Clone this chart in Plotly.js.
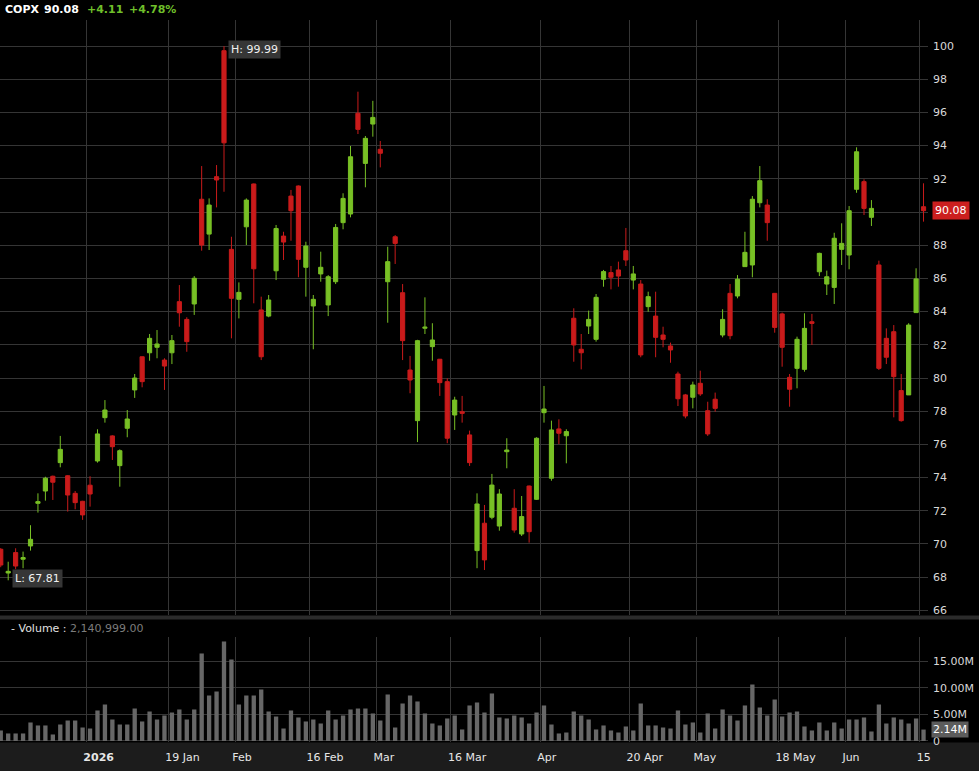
<!DOCTYPE html>
<html><head><meta charset="utf-8">
<script src="https://cdn.plot.ly/plotly-3.0.1.min.js"></script>
<style>html,body{margin:0;padding:0;background:#000;}#chart{width:979px;height:771px;}</style>
</head><body><div id="chart"></div>
<script>
const dates = [
"2025-12-15","2025-12-16","2025-12-17","2025-12-18","2025-12-19","2025-12-22","2025-12-23","2025-12-24","2025-12-26","2025-12-29","2025-12-30","2025-12-31",
"2026-01-02","2026-01-05","2026-01-06","2026-01-07","2026-01-08","2026-01-09","2026-01-12","2026-01-13","2026-01-14","2026-01-15","2026-01-16","2026-01-20","2026-01-21","2026-01-22","2026-01-23","2026-01-26","2026-01-27","2026-01-28","2026-01-29","2026-01-30",
"2026-02-02","2026-02-03","2026-02-04","2026-02-05","2026-02-06","2026-02-09","2026-02-10","2026-02-11","2026-02-12","2026-02-13","2026-02-17","2026-02-18","2026-02-19","2026-02-20","2026-02-23","2026-02-24","2026-02-25","2026-02-26","2026-02-27",
"2026-03-02","2026-03-03","2026-03-04","2026-03-05","2026-03-06","2026-03-09","2026-03-10","2026-03-11","2026-03-12","2026-03-13","2026-03-16","2026-03-17","2026-03-18","2026-03-19","2026-03-20","2026-03-23","2026-03-24","2026-03-25","2026-03-26","2026-03-27","2026-03-30","2026-03-31",
"2026-04-01","2026-04-02","2026-04-06","2026-04-07","2026-04-08","2026-04-09","2026-04-10","2026-04-13","2026-04-14","2026-04-15","2026-04-16","2026-04-17","2026-04-20","2026-04-21","2026-04-22","2026-04-23","2026-04-24","2026-04-27","2026-04-28","2026-04-29","2026-04-30",
"2026-05-01","2026-05-04","2026-05-05","2026-05-06","2026-05-07","2026-05-08","2026-05-11","2026-05-12","2026-05-13","2026-05-14","2026-05-15","2026-05-18","2026-05-19","2026-05-20","2026-05-21","2026-05-22","2026-05-26","2026-05-27","2026-05-28","2026-05-29",
"2026-06-01","2026-06-02","2026-06-03","2026-06-04","2026-06-05","2026-06-08","2026-06-09","2026-06-10","2026-06-11","2026-06-12","2026-06-15"];

const open = [
69.68,68.25,69.48,69.08,69.88,72.45,73.19,74.08,74.90,74.11,73.05,72.57,
73.54,75.00,77.61,76.51,74.72,76.97,79.28,81.28,81.52,81.85,81.08,81.52,84.60,83.53,84.46,90.77,88.67,92.13,99.72,87.75,
84.74,89.11,91.69,84.10,83.73,86.46,88.55,90.96,91.57,86.67,84.34,86.27,84.40,85.80,89.36,89.88,95.95,92.93,95.30,
93.78,85.80,88.51,85.14,80.48,77.43,83.00,81.89,81.13,79.78,77.77,77.97,76.57,69.60,71.25,71.61,71.08,75.56,72.15,70.60,73.49,72.69,
77.91,73.96,76.93,76.52,83.60,81.73,83.13,82.33,85.95,86.35,86.51,87.67,85.90,85.66,84.30,83.73,82.59,81.93,80.24,78.98,78.84,
79.68,78.03,78.72,82.59,85.10,84.94,86.71,86.81,90.56,90.42,85.10,83.86,80.04,80.58,80.52,83.39,86.40,85.66,85.46,87.75,
87.41,91.37,91.83,89.68,86.81,82.39,82.79,79.24,78.98,83.94,90.32];

const high = [
69.75,68.93,69.74,69.54,71.13,73.05,74.05,74.12,76.51,74.15,73.19,72.60,
74.08,76.91,78.67,76.55,75.70,78.07,80.24,81.30,82.65,82.89,81.19,82.59,85.60,83.66,86.14,92.77,90.82,92.83,99.99,88.51,
85.76,90.82,91.72,84.90,85.00,89.22,88.81,91.33,91.60,88.21,85.00,87.61,86.20,89.28,91.13,93.98,97.25,94.58,96.70,
94.28,87.91,88.61,85.66,81.33,82.30,84.86,83.30,81.15,79.98,78.87,78.92,76.83,73.05,72.35,74.22,73.30,76.37,73.30,72.89,73.52,76.43,
79.52,77.43,77.51,76.91,84.20,82.65,84.06,85.06,86.51,86.75,87.01,89.04,86.75,85.90,85.20,85.20,83.09,82.13,80.38,79.04,79.78,
80.44,78.57,79.12,84.14,85.66,86.20,88.81,90.96,92.77,90.77,85.12,83.94,80.24,82.49,83.90,83.86,87.55,86.47,88.75,89.32,
90.36,93.90,91.97,90.72,87.07,82.99,83.19,80.24,83.30,86.61,91.73];

const low = [
68.60,67.81,68.48,68.54,69.60,71.89,72.61,72.65,74.62,71.95,72.09,71.45,
72.25,74.90,77.31,75.06,73.45,76.43,78.80,79.44,81.04,81.19,79.28,80.84,83.09,81.58,83.80,87.67,87.71,90.28,91.22,82.39,
83.59,88.01,84.50,81.08,83.66,85.90,87.11,88.27,86.07,84.90,81.73,85.80,83.73,85.66,88.96,89.68,94.70,91.49,94.54,
92.69,83.33,86.87,81.08,79.08,76.14,82.65,81.04,78.92,76.07,76.87,77.31,74.70,68.54,68.43,71.49,70.80,74.56,70.68,70.48,70.08,72.65,
77.31,73.81,76.02,74.86,80.98,80.52,82.65,82.19,85.50,85.34,85.50,86.75,85.34,81.25,83.99,81.25,81.85,80.92,78.31,77.57,78.17,
78.92,76.51,77.97,82.45,82.33,84.80,86.71,86.07,90.28,88.27,82.73,80.68,78.27,79.38,80.38,81.99,86.14,85.00,84.46,86.81,
86.55,91.16,89.82,89.16,80.48,80.84,77.63,77.37,78.98,83.94,89.42];

const close = [
68.73,68.35,68.67,69.18,70.28,72.55,73.96,73.72,75.70,72.95,72.49,71.75,
73.01,76.63,78.07,75.86,75.62,77.53,80.00,79.78,82.39,82.05,80.72,82.25,83.93,82.19,86.01,88.01,90.42,91.93,94.17,84.80,
85.16,90.72,86.58,81.28,84.70,89.01,88.19,90.08,87.15,87.95,84.74,86.67,86.10,89.07,90.82,93.33,94.98,94.44,95.70,
93.54,87.01,88.11,82.25,79.88,82.25,83.06,82.29,79.72,76.37,78.67,77.87,74.90,72.41,69.04,73.55,73.01,75.66,70.84,71.65,70.74,76.37,
78.13,76.87,76.67,76.77,81.99,81.52,83.53,84.86,86.41,86.07,86.14,87.11,86.27,81.39,84.90,82.45,82.33,81.69,78.75,77.71,79.58,
79.04,76.63,78.17,83.53,82.55,85.95,87.57,90.77,91.89,89.36,83.05,81.85,79.32,82.33,82.99,83.29,87.51,86.10,88.42,88.11,
90.08,93.63,90.22,90.22,80.58,81.25,80.08,77.43,83.19,85.97,90.08];

// volume in millions of shares
const volumeM = [
1.97,1.41,1.41,1.41,3.47,2.91,2.91,1.22,3.09,3.84,3.84,2.53,
2.34,5.72,6.84,4.03,3.09,3.09,6.09,3.66,5.53,4.03,4.78,5.34,5.91,4.03,5.91,16.41,8.53,9.28,18.66,15.28,
6.84,8.53,8.53,9.66,5.53,4.59,2.34,5.72,4.41,3.66,4.03,3.28,5.72,4.03,4.78,5.91,6.09,6.09,5.16,
3.84,8.72,2.53,7.03,8.53,7.41,5.16,3.28,2.91,4.22,4.78,2.16,6.66,7.22,5.34,8.91,4.41,4.22,4.78,4.41,3.28,5.34,
6.66,3.09,1.41,1.59,5.53,4.78,4.03,2.16,2.91,1.97,1.59,2.72,1.97,7.03,2.91,2.91,2.53,2.34,5.72,3.09,3.47,
1.59,5.16,2.34,5.91,4.78,3.84,6.66,10.59,6.28,4.78,7.78,4.59,5.34,5.53,2.72,1.97,3.47,1.97,3.47,2.34,
4.03,4.03,4.41,1.78,6.84,3.28,4.41,4.03,3.28,4.22,2.14];

const tickDates  = ["2026-01-02","2026-01-20","2026-02-02","2026-02-17","2026-03-02","2026-03-16","2026-04-01","2026-04-20","2026-05-01","2026-05-18","2026-06-01","2026-06-15"];
const tickLabels = ["<b>2026</b>","19 Jan","Feb","16 Feb","Mar","16 Mar","Apr","20 Apr","May","18 May","Jun","15"];
const priceTicks = [66,68,70,72,74,76,78,80,82,84,86,88,90,92,94,96,98,100];
const volTickVals = [0,5,10,15];
const volTickText = ["0","5.00M","10.00M","15.00M"];
const symbol = "COPX";
const lastPrice = "90.08";
const changeAbs = "+4.11";
const changePct = "+4.78%";
const lastVolumeText = "2,140,999.00";

const GREEN = "#78c025", RED = "#c91b1b", HDR_GREEN = "#6fbf2a";
const W = 979, H = 771, mT = 20, mB = 29, mR = 51;
const plotW = W - mR;
const plotH = H - mT - mB;
const py = p => (H - mB - p) / plotH;   // pixel row -> paper y
const px = p => p / plotW;              // pixel column -> paper x

const gridVals = tickDates.map(d => dates.indexOf(d) - 0.5);
const n = dates.length;
const lastClose = close[n - 1];
const priceTickText = priceTicks.map(v => Math.abs(v - lastClose) < 1 ? "" : String(v));
const iMax = high.indexOf(Math.max(...high));
const iMin = low.indexOf(Math.min(...low));

const candle = {
  type: "candlestick", x: dates, open: open, high: high, low: low, close: close,
  xaxis: "x", yaxis: "y", whiskerwidth: 0,
  increasing: {line: {color: GREEN, width: 1}, fillcolor: GREEN},
  decreasing: {line: {color: RED, width: 1}, fillcolor: RED},
  hoverinfo: "skip"
};
const vol = {
  type: "bar", x: dates, y: volumeM, xaxis: "x", yaxis: "y2",
  marker: {color: "#676767", line: {width: 0}}, hoverinfo: "skip"
};

const tf = {family: "DejaVu Sans", size: 11, color: "#d8d8d8"};
const hdr = (x, text, color) => ({xref: "paper", yref: "paper", x: px(x), y: py(10), xanchor: "left", yanchor: "middle",
  showarrow: false, text: "<b>" + text + "</b>", font: {family: "DejaVu Sans", size: 11, color: color}});

const layout = {
  width: W, height: H, paper_bgcolor: "#000", plot_bgcolor: "#000",
  margin: {l: 0, r: mR, t: mT, b: mB, pad: 0},
  showlegend: false, hovermode: false, dragmode: false,
  boxgap: 0.2, boxgroupgap: 0.3, bargap: 0.42,
  xaxis: {
    type: "category", range: [-0.1, n - 0.4], anchor: "y2",
    tickmode: "array", tickvals: gridVals, ticktext: tickLabels,
    ticklabelposition: "outside right", ticklabelshift: -3, ticklabelstandoff: 7,
    showgrid: true, gridcolor: "#353535", gridwidth: 1,
    ticks: "", showline: false, zeroline: false,
    rangeslider: {visible: false}, tickfont: {family: "DejaVu Sans", size: 11, color: "#e6e6e6"},
    fixedrange: true
  },
  yaxis: {
    domain: [py(615), 1], range: [65.72, 101.57], side: "right", anchor: "x",
    tickmode: "array", tickvals: priceTicks, ticktext: priceTickText, ticks: "", showline: false, zeroline: false,
    ticklabelstandoff: 4,
    gridcolor: "#353535", gridwidth: 1, tickfont: tf, fixedrange: true
  },
  yaxis2: {
    domain: [0, py(637)], range: [-0.19, 19.5], side: "right", anchor: "x",
    tickmode: "array", tickvals: volTickVals, ticktext: volTickText, ticks: "", showline: false,
    ticklabelstandoff: 4,
    zeroline: false, showgrid: true, gridcolor: "#353535", gridwidth: 1, tickfont: tf, fixedrange: true
  },
  shapes: [
    {type: "rect", xref: "paper", yref: "paper", x0: 0, x1: px(W), y0: py(619.5), y1: py(615.5),
     fillcolor: "#2b2b2b", line: {width: 0}, layer: "below"},
    {type: "rect", xref: "paper", yref: "paper", x0: 0, x1: px(W), y0: py(771), y1: py(742.5),
     fillcolor: "#1c1c1c", line: {width: 0}, layer: "below"}
  ],
  annotations: [
    hdr(3, symbol, "#ffffff"),
    hdr(42, lastPrice, "#ffffff"),
    hdr(85, changeAbs, HDR_GREEN),
    hdr(127, changePct, HDR_GREEN),
    {xref: "paper", yref: "paper", x: 0, y: py(628), xanchor: "left", yanchor: "middle", xshift: 9,
     showarrow: false, text: "-\u00A0Volume\u00A0:\u00A0<span style='color:#7c7c7c'>" + lastVolumeText + "</span>",
     font: {family: "DejaVu Sans", size: 11, color: "#e0e0e0"}},
    {xref: "x", yref: "y", x: dates[iMax], y: high[iMax], xanchor: "left", yanchor: "middle", xshift: 4, yshift: -3,
     showarrow: false, text: "H: " + high[iMax].toFixed(2), bgcolor: "#363636", borderpad: 2,
     font: {family: "DejaVu Sans", size: 11, color: "#f0f0f0"}},
    {xref: "x", yref: "y", x: dates[iMin], y: low[iMin], xanchor: "left", yanchor: "middle", xshift: 4, yshift: 2,
     showarrow: false, text: "L: " + low[iMin].toFixed(2), bgcolor: "#363636", borderpad: 2,
     font: {family: "DejaVu Sans", size: 11, color: "#f0f0f0"}},
    {xref: "paper", yref: "y", x: 1, y: lastClose, xanchor: "left", yanchor: "middle", xshift: 4,
     showarrow: false, text: lastClose.toFixed(2), bgcolor: "#cc1f1f", borderpad: 2,
     font: {family: "DejaVu Sans", size: 11, color: "#ffffff"}},
    {xref: "paper", yref: "y2", x: 1, y: volumeM[n - 1], xanchor: "left", yanchor: "middle", xshift: 3,
     showarrow: false, text: volumeM[n - 1].toFixed(2) + "M", bgcolor: "#5c5c5c", borderpad: 1,
     font: {family: "DejaVu Sans", size: 11, color: "#ffffff"}}
  ]
};

Plotly.newPlot("chart", [candle, vol], layout, {staticPlot: true, displayModeBar: false});
</script>
</body></html>
